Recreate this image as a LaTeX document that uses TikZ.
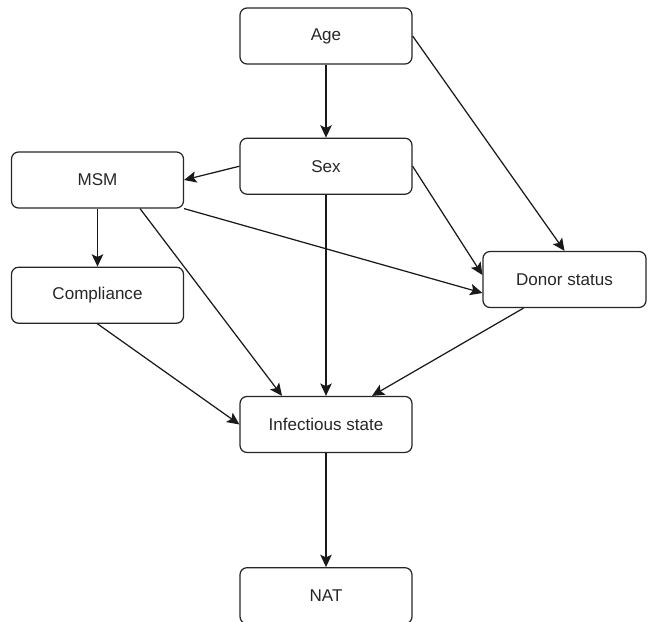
\documentclass[tikz,border=0pt]{standalone}
\usepackage{fontspec}
\setmainfont{Liberation Sans}
\usepackage{tikz}
\usetikzlibrary{positioning,arrows.meta}

\begin{document}
\begin{tikzpicture}[
  node distance=1.2cm,
  every node/.style={font=\fontsize{9.7}{11}\selectfont, text=black!85},
  box/.style={rectangle, draw=black!85, line width=0.7pt, rounded corners=4pt,
    minimum width=3.44cm, minimum height=1.12cm, inner sep=2pt, text centered},
  arr/.style={-{Stealth[length=7pt,width=6.5pt,inset=1.5pt]}, line width=0.7pt, draw=black!90}
]
  \useasboundingbox (0,0) rectangle (13,-12.42);

  \node[box] (age) at (6.52,-0.72) {Age};
  \node[box, below=1.46cm of age] (sex) {Sex};
  \node[box] (msm) at (1.95,-3.60) {MSM};
  \node[box, below=1.16cm of msm] (compl) {Compliance};
  \node[box, minimum width=3.26cm] (donor) at (11.29,-5.59) {Donor status};
  \node[box, below=4.02cm of sex] (infect) {Infectious state};
  \node[box, below=2.28cm of infect] (nat) {NAT};

  \draw[arr] (age) -- (sex);
  \draw[arr] (age.east) -- (donor.north);
  \draw[arr] (sex.west) -- (msm.east);
  \draw[arr] (sex.east) -- ([yshift=0.09cm]donor.west);
  \draw[arr] (msm.south east) -- ([yshift=-0.27cm]donor.west);
  \draw[arr] (msm) -- (compl);
  \draw[arr] ([xshift=0.85cm]msm.south) -- ([xshift=-0.88cm]infect.north);
  \draw[arr] (sex) -- (infect);
  \draw[arr] (compl.south) -- (infect.west);
  \draw[arr] ([xshift=-0.82cm]donor.south) -- ([xshift=0.92cm]infect.north);
  \draw[arr] (infect) -- (nat);
\end{tikzpicture}
\end{document}
